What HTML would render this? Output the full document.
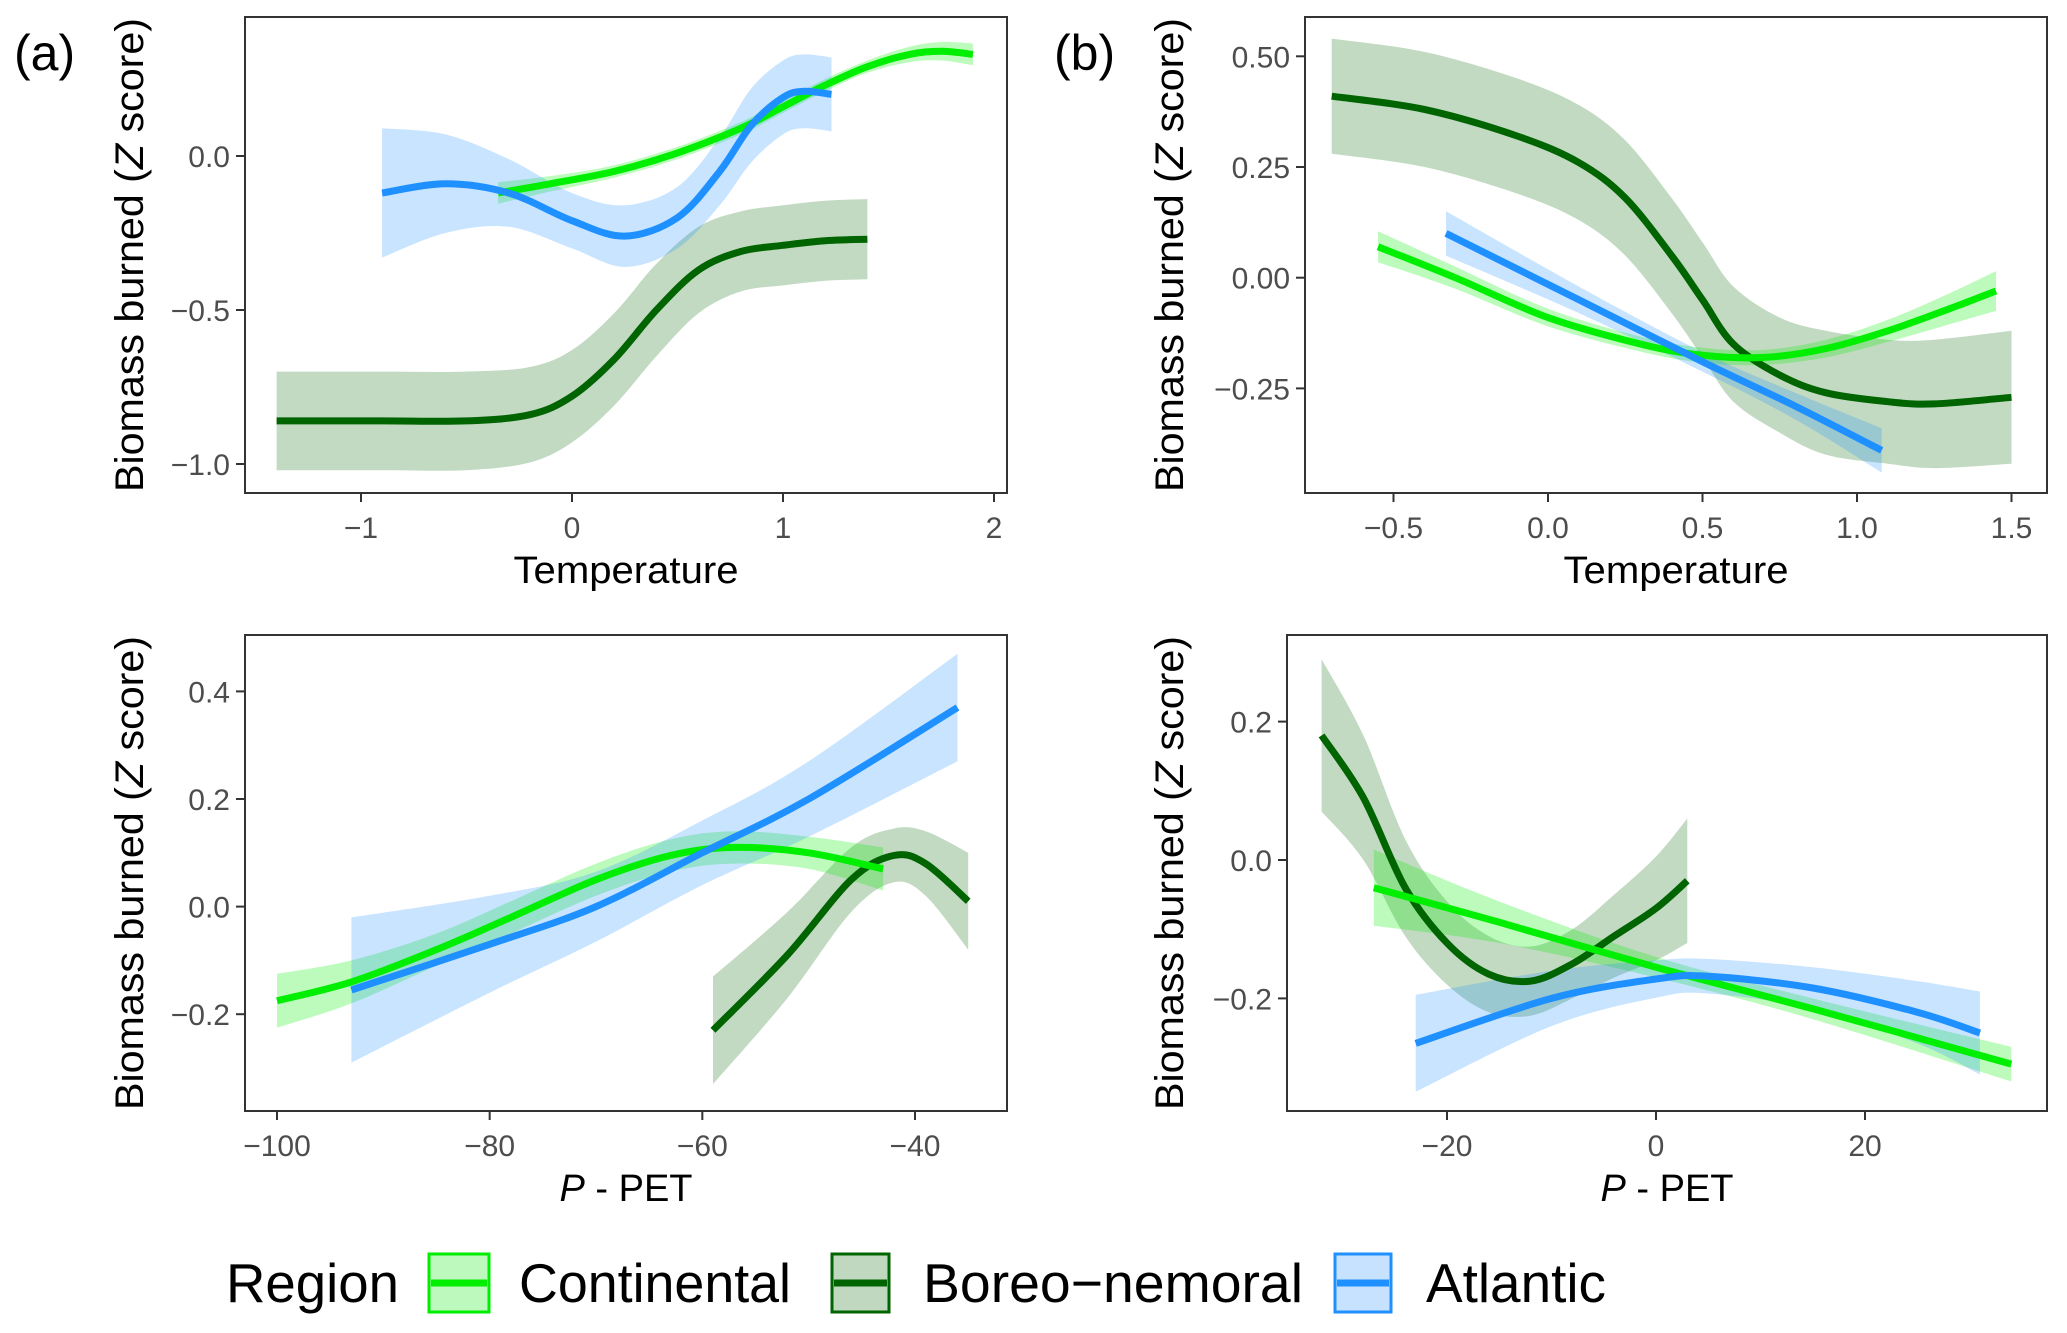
<!DOCTYPE html>
<html><head><meta charset="utf-8"><style>
html,body{margin:0;padding:0;background:#fff}
svg{display:block;font-family:"Liberation Sans",sans-serif}
</style></head><body>
<svg id="fig" width="2067" height="1333" viewBox="0 0 2067 1333" xmlns="http://www.w3.org/2000/svg">
<text x="14" y="70" font-size="50">(a)</text>
<text x="1054" y="70" font-size="50">(b)</text>
<g id="legend">
<text x="226" y="1302" font-size="55" textLength="173" lengthAdjust="spacingAndGlyphs">Region</text>
<g>
<rect x="429" y="1254" width="60" height="58" fill="#bdf8bd" stroke="#00ee00" stroke-width="3"/>
<line x1="431" x2="487" y1="1283" y2="1283" stroke="#00ee00" stroke-width="7"/>
<text x="519" y="1302" font-size="55" textLength="272" lengthAdjust="spacingAndGlyphs">Continental</text></g>
<g>
<rect x="832" y="1254" width="57" height="58" fill="#bfd8bf" stroke="#006400" stroke-width="3"/>
<line x1="834" x2="887" y1="1283" y2="1283" stroke="#006400" stroke-width="7"/>
<text x="923" y="1302" font-size="55" textLength="380" lengthAdjust="spacingAndGlyphs">Boreo−nemoral</text></g>
<g>
<rect x="1335" y="1254" width="56" height="58" fill="#c6e2ff" stroke="#1e90ff" stroke-width="3"/>
<line x1="1337" x2="1389" y1="1283" y2="1283" stroke="#1e90ff" stroke-width="7"/>
<text x="1426" y="1302" font-size="55" textLength="180" lengthAdjust="spacingAndGlyphs">Atlantic</text></g>
</g>
</svg>
<script>
// ---- Panel A top (Temperature) ----
const aTopContX=[-0.35,-0.1,0.2,0.5,0.8,1.0,1.2,1.4,1.6,1.75,1.9];
const aTopContY=[-0.12,-0.09,-0.05,0.01,0.09,0.16,0.23,0.29,0.33,0.34,0.33];
const aTopContSE=[0.035,0.025,0.02,0.02,0.02,0.02,0.02,0.02,0.025,0.03,0.035];
const aTopAtlX=[-0.9,-0.6,-0.3,0,0.25,0.5,0.7,0.85,1.0,1.1,1.23];
const aTopAtlY=[-0.12,-0.09,-0.12,-0.21,-0.26,-0.2,-0.05,0.1,0.19,0.21,0.2];
const aTopAtlSE=[0.21,0.16,0.11,0.09,0.1,0.1,0.11,0.12,0.12,0.12,0.12];
const aTopBorX=[-1.4,-0.9,-0.5,-0.2,0,0.2,0.4,0.6,0.8,1.0,1.2,1.4];
const aTopBorY=[-0.86,-0.86,-0.86,-0.84,-0.78,-0.66,-0.5,-0.37,-0.31,-0.29,-0.275,-0.27];
const aTopBorSE=[0.16,0.16,0.16,0.155,0.15,0.15,0.15,0.14,0.13,0.13,0.13,0.13];
const aTopXTicks=[-1,0,1,2];
const aTopXLabels=["−1","0","1","2"];
const aTopYTicks=[0,-0.5,-1];
const aTopYLabels=["0.0","−0.5","−1.0"];
// ---- Panel B top (Temperature) ----
const bTopBorX=[-0.7,-0.4,-0.1,0.1,0.25,0.4,0.5,0.6,0.75,0.9,1.1,1.25,1.5];
const bTopBorY=[0.41,0.38,0.32,0.26,0.18,0.05,-0.05,-0.15,-0.22,-0.26,-0.28,-0.285,-0.27];
const bTopBorSE=[0.13,0.13,0.13,0.13,0.13,0.13,0.13,0.13,0.13,0.14,0.14,0.145,0.15];
const bTopContX=[-0.55,-0.3,0,0.3,0.5,0.7,0.9,1.1,1.3,1.45];
const bTopContY=[0.07,0.0,-0.09,-0.15,-0.175,-0.18,-0.16,-0.12,-0.07,-0.03];
const bTopContSE=[0.035,0.025,0.02,0.017,0.017,0.017,0.02,0.025,0.035,0.045];
const bTopAtlX=[-0.33,0.1,0.5,0.8,1.08];
const bTopAtlY=[0.1,-0.05,-0.19,-0.29,-0.39];
const bTopAtlSE=[0.05,0.03,0.022,0.03,0.05];
const bTopXTicks=[-0.5,0,0.5,1,1.5];
const bTopXLabels=["−0.5","0.0","0.5","1.0","1.5"];
const bTopYTicks=[0.5,0.25,0,-0.25];
const bTopYLabels=["0.50","0.25","0.00","−0.25"];
// ---- Panel A bottom (P - PET) ----
const aBotContX=[-100,-93,-85,-78,-70,-63,-57,-50,-43];
const aBotContY=[-0.175,-0.14,-0.08,-0.02,0.05,0.095,0.11,0.1,0.07];
const aBotContSE=[0.05,0.04,0.03,0.03,0.03,0.03,0.03,0.03,0.04];
const aBotAtlX=[-93,-80,-70,-60,-50,-36];
const aBotAtlY=[-0.155,-0.07,0.0,0.1,0.2,0.37];
const aBotAtlSE=[0.135,0.09,0.065,0.06,0.07,0.1];
const aBotBorX=[-59,-52,-46,-42,-39,-35];
const aBotBorY=[-0.23,-0.09,0.05,0.095,0.08,0.01];
const aBotBorSE=[0.1,0.08,0.06,0.05,0.06,0.09];
const aBotXTicks=[-100,-80,-60,-40];
const aBotXLabels=["−100","−80","−60","−40"];
const aBotYTicks=[0.4,0.2,0,-0.2];
const aBotYLabels=["0.4","0.2","0.0","−0.2"];
// ---- Panel B bottom (P - PET) ----
const bBotBorX=[-32,-28,-24,-20,-16,-12,-8,-4,0,3];
const bBotBorY=[0.18,0.09,-0.04,-0.12,-0.165,-0.175,-0.15,-0.11,-0.07,-0.03];
const bBotBorSE=[0.11,0.09,0.07,0.06,0.055,0.05,0.05,0.06,0.075,0.09];
const bBotContX=[-27,-15,0,15,34];
const bBotContY=[-0.04,-0.09,-0.155,-0.215,-0.295];
const bBotContSE=[0.055,0.03,0.015,0.015,0.025];
const bBotAtlX=[-23,-10,0,5,15,25,31];
const bBotAtlY=[-0.265,-0.2,-0.172,-0.168,-0.185,-0.22,-0.25];
const bBotAtlSE=[0.07,0.04,0.027,0.025,0.03,0.045,0.06];
const bBotXTicks=[-20,0,20];
const bBotXLabels=["−20","0","20"];
const bBotYTicks=[0.2,0,-0.2];
const bBotYLabels=["0.2","0.0","−0.2"];

const NS="http://www.w3.org/2000/svg";
const svg=document.getElementById('fig');
const COL={cont:"#00ee00",bor:"#006400",atl:"#1e90ff"};
const FILL={cont:"rgba(0,238,0,0.26)",bor:"rgba(0,100,0,0.24)",atl:"rgba(30,144,255,0.24)"};
function mk(tag,attrs,parent){const e=document.createElementNS(NS,tag);for(const k in attrs)e.setAttribute(k,attrs[k]);(parent||svg).appendChild(e);return e;}
function lin(d0,d1,r0,r1){return v=>r0+(v-d0)/(d1-d0)*(r1-r0);}
function smooth(pts){let d="M"+pts[0][0].toFixed(1)+","+pts[0][1].toFixed(1);
 for(let i=0;i<pts.length-1;i++){const p0=pts[Math.max(0,i-1)],p1=pts[i],p2=pts[i+1],p3=pts[Math.min(pts.length-1,i+2)];
  const c1=[p1[0]+(p2[0]-p0[0])/6,p1[1]+(p2[1]-p0[1])/6],c2=[p2[0]-(p3[0]-p1[0])/6,p2[1]-(p3[1]-p1[1])/6];
  d+="C"+c1[0].toFixed(1)+","+c1[1].toFixed(1)+" "+c2[0].toFixed(1)+","+c2[1].toFixed(1)+" "+p2[0].toFixed(1)+","+p2[1].toFixed(1);}
 return d;}
function panel(o){
 const g=mk('g',{});
 
 
 const sx=lin(o.xd[0],o.xd[1],o.xr[0],o.xr[1]), sy=lin(o.yd[0],o.yd[1],o.yr[0],o.yr[1]);
 const cp=mk('clipPath',{id:'clip-'+o.name},g);
 mk('rect',{x:o.L,y:o.T,width:o.R-o.L,height:o.B-o.T},cp);
 const plot=mk('g',{'clip-path':'url(#clip-'+o.name+')'},g);
 o.series.forEach(s=>{
  const up=s.x.map((v,i)=>[sx(v),sy(s.y[i]+s.se[i])]);
  const lo=s.x.map((v,i)=>[sx(v),sy(s.y[i]-s.se[i])]).reverse();
  const ls=smooth(lo);
  const band=mk('path',{d:smooth(up)+"L"+lo[0][0].toFixed(1)+","+lo[0][1].toFixed(1)+ls.slice(ls.indexOf('C'))+"Z",fill:FILL[s.k],stroke:"none"},plot);
  
  
 });
 o.series.forEach(s=>{
  const ln=mk('path',{d:smooth(s.x.map((v,i)=>[sx(v),sy(s.y[i])])),fill:"none",stroke:COL[s.k],'stroke-width':7},plot);
  
  
 });
 const fr=mk('rect',{x:o.L,y:o.T,width:o.R-o.L,height:o.B-o.T,fill:"none",stroke:"#333",'stroke-width':2},g);
 
 
 o.xt.forEach((v,i)=>{const x=sx(v);
  mk('line',{x1:x,x2:x,y1:o.B,y2:o.B+9,stroke:"#333",'stroke-width':2},g);
  const t=mk('text',{x:x,y:o.B+45,'font-size':30,'text-anchor':'middle',fill:'#4d4d4d'},g);
  t.textContent=o.xl[i];
  
  });
 o.yt.forEach((v,i)=>{const y=sy(v);
  mk('line',{x1:o.L-9,x2:o.L,y1:y,y2:y,stroke:"#333",'stroke-width':2},g);
  const t=mk('text',{x:o.L-15,y:y+11,'font-size':30,'text-anchor':'end',fill:'#4d4d4d'},g);
  t.textContent=o.yl[i];
  
  });
 const cx=(o.L+o.R)/2, cy=(o.T+o.B)/2;
 const yt=mk('text',{x:0,y:0,'font-size':40,'text-anchor':'middle',transform:`translate(${o.ytx},${cy}) rotate(-90)`,textLength:474,lengthAdjust:'spacingAndGlyphs'},g);
 yt.innerHTML='Biomass burned (<tspan font-style="italic">Z</tspan> score)';
 
 
 const xt=mk('text',{x:cx,y:o.B+90,'font-size':38,'text-anchor':'middle'},g);
 if(o.xtitle==='T'){xt.textContent='Temperature';xt.setAttribute('textLength',225);xt.setAttribute('lengthAdjust','spacingAndGlyphs');}
 else{xt.innerHTML='<tspan font-style="italic">P</tspan> - PET';}
 
 
}
panel({name:'panel-a-temperature',L:245,R:1007,T:17,B:493,xd:[0,1],xr:[572,783],yd:[0,-0.5],yr:[156,310],
 xt:aTopXTicks,xl:aTopXLabels,yt:aTopYTicks,yl:aTopYLabels,ytx:143,xtitle:'T',
 series:[{k:'bor',x:aTopBorX,y:aTopBorY,se:aTopBorSE},{k:'cont',x:aTopContX,y:aTopContY,se:aTopContSE},{k:'atl',x:aTopAtlX,y:aTopAtlY,se:aTopAtlSE}]});
panel({name:'panel-b-temperature',L:1305,R:2047,T:17,B:493,xd:[0,1],xr:[1548,1857],yd:[0,0.25],yr:[277.7,167],
 xt:bTopXTicks,xl:bTopXLabels,yt:bTopYTicks,yl:bTopYLabels,ytx:1183,xtitle:'T',
 series:[{k:'bor',x:bTopBorX,y:bTopBorY,se:bTopBorSE},{k:'cont',x:bTopContX,y:bTopContY,se:bTopContSE},{k:'atl',x:bTopAtlX,y:bTopAtlY,se:bTopAtlSE}]});
panel({name:'panel-a-p-pet',L:245,R:1007,T:635,B:1111,xd:[-100,-40],xr:[277,915],yd:[0,0.2],yr:[906.6,799],
 xt:aBotXTicks,xl:aBotXLabels,yt:aBotYTicks,yl:aBotYLabels,ytx:143,xtitle:'P',
 series:[{k:'bor',x:aBotBorX,y:aBotBorY,se:aBotBorSE},{k:'cont',x:aBotContX,y:aBotContY,se:aBotContSE},{k:'atl',x:aBotAtlX,y:aBotAtlY,se:aBotAtlSE}]});
panel({name:'panel-b-p-pet',L:1287,R:2047,T:635,B:1111,xd:[-20,20],xr:[1447,1865],yd:[0,0.2],yr:[860,721.6],
 xt:bBotXTicks,xl:bBotXLabels,yt:bBotYTicks,yl:bBotYLabels,ytx:1183,xtitle:'P',
 series:[{k:'bor',x:bBotBorX,y:bBotBorY,se:bBotBorSE},{k:'cont',x:bBotContX,y:bBotContY,se:bBotContSE},{k:'atl',x:bBotAtlX,y:bBotAtlY,se:bBotAtlSE}]});
</script>
</body></html>
